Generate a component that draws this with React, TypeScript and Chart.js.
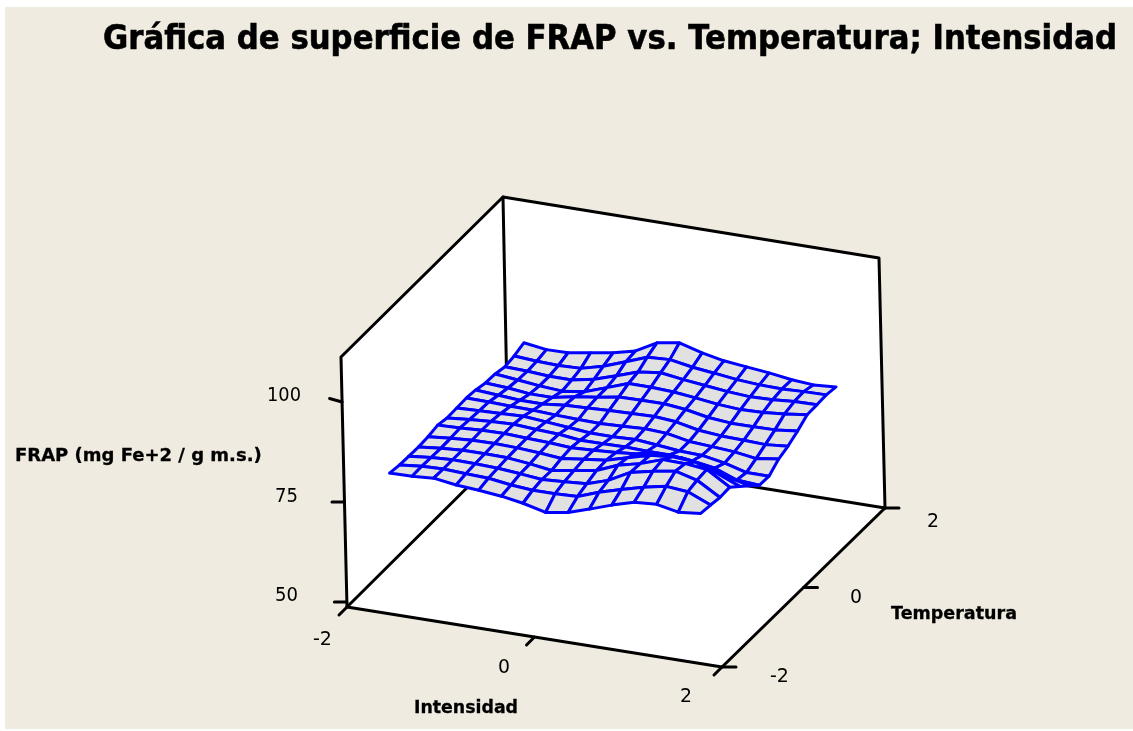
import React, { useEffect, useRef } from "react";
import { Chart, registerables } from "chart.js";

Chart.register(...registerables);

const intensidad = [-1.66, -1.42, -1.19, -0.95, -0.71, -0.47, -0.24, 0, 0.24, 0.47, 0.71, 0.95, 1.19, 1.42, 1.66];
const temperatura = [-1.66, -1.42, -1.19, -0.95, -0.71, -0.47, -0.24, 0, 0.24, 0.47, 0.71, 0.95, 1.19, 1.42, 1.66];

const frapT0 = [80.1, 80.2, 80.6, 79.8, 79.4, 78.8, 77.9, 76.5, 77.4, 79.1, 81.0, 82.6, 83.0, 81.9, 82.5];
const frapT1 = [79.7, 80.3, 80.5, 80.2, 80.0, 79.2, 78.75, 78.8, 79.0, 80.9, 82.5, 84.0, 85.1, 84.6, 82.2];
const frapT2 = [79.6, 80.2, 80.5, 80.4, 80.2, 79.7, 79.15, 79.5, 79.9, 81.6, 84.5, 85.7, 86.6, 85.2, 81.8];
const frapT3 = [79.5, 80.1, 80.5, 80.5, 80.4, 79.8, 79.0, 79.9, 80.8, 83.0, 84.3, 86.2, 86.1, 85.5, 82.0];
const frapT4 = [79.7, 80.2, 80.6, 80.7, 80.5, 80.1, 79.6, 80.3, 81.0, 82.5, 84.0, 84.5, 84.1, 82.2, 79.8];
const frapT5 = [80.2, 80.4, 80.7, 80.8, 80.5, 80.3, 79.9, 80.2, 80.5, 81.0, 81.8, 81.8, 80.6, 78.9, 77.6];
const frapT6 = [79.7, 80.2, 80.6, 80.8, 80.4, 80.1, 79.5, 79.5, 79.6, 79.4, 79.4, 78.8, 77.9, 75.8, 75.4];
const frapT7 = [79.8, 80.0, 80.2, 80.4, 79.9, 79.4, 78.9, 78.9, 79.1, 78.6, 78.0, 77.8, 76.8, 75.3, 75.3];
const frapT8 = [79.9, 79.8, 79.6, 79.5, 79.2, 79.0, 78.9, 79.1, 79.4, 79.1, 78.0, 77.6, 77.2, 76.4, 77.2];
const frapT9 = [79.6, 79.2, 78.8, 78.8, 79.4, 79.6, 79.85, 80.0, 80.15, 79.7, 78.5, 78.0, 77.8, 77.6, 78.1];
const frapT10 = [78.95, 78.6, 78.0, 78.0, 79.1, 79.9, 80.8, 80.9, 80.95, 80.4, 79.3, 78.8, 78.8, 78.9, 79.5];
const frapT11 = [78.8, 78.2, 77.6, 77.2, 77.95, 79.9, 81.8, 81.8, 81.5, 80.9, 80.2, 79.8, 80.0, 80.5, 81.2];
const frapT12 = [78.2, 78.0, 77.6, 77.6, 78.7, 80.5, 82.3, 83.0, 82.2, 81.6, 81.0, 80.6, 80.8, 81.2, 81.3];
const frapT13 = [78.6, 78.2, 78.0, 78.2, 79.65, 81.7, 83.7, 84.0, 83.0, 82.4, 81.7, 81.3, 81.2, 81.4, 81.5];
const frapT14 = [79.5, 78.7, 78.8, 79.7, 80.6, 82.0, 84.9, 85.8, 84.2, 83.1, 82.5, 81.9, 81.1, 80.7, 81.1];
const frap = [frapT0, frapT1, frapT2, frapT3, frapT4, frapT5, frapT6, frapT7, frapT8, frapT9, frapT10, frapT11, frapT12, frapT13, frapT14];

const axisLow = -2;
const axisHigh = 2;
const frapLow = 48.75;
const frapHigh = 111.25;
const frapTicks = [50, 75, 100];
const intensidadTicks = [-2, 0, 2];
const temperaturaTicks = [-2, 0, 2];

const titleText = "Gráfica de superficie de FRAP vs. Temperatura; Intensidad";
const frapTitle = "FRAP (mg Fe+2 / g m.s.)";
const intensidadTitle = "Intensidad";
const temperaturaTitle = "Temperatura";

const BLUE = "#0000FF";
const MESH_FILL = "#E1E1E1";
const BEIGE = "#EFEBE0";
const FONT = '"DejaVu Sans", sans-serif';

// Screen positions of the eight corners of the 3D box (the camera of the plot).
const view = {
  floor00: [347, 607], floor10: [722, 667], floor01: [508, 447], floor11: [885, 508],
  top00: [341, 357], top10: [716, 417], top01: [503, 197], top11: [879, 258],
};

function project(i: number, t: number, z: number) {
  const u = (i - axisLow) / (axisHigh - axisLow);
  const v = (t - axisLow) / (axisHigh - axisLow);
  const w = (z - frapLow) / (frapHigh - frapLow);
  const mix = (a: number[], b: number[], c: number[], d: number[], k: number) => {
    const near = a[k] + (b[k] - a[k]) * u;
    const far = c[k] + (d[k] - c[k]) * u;
    return near + (far - near) * v;
  };
  const pick = (k: number) => {
    const lo = mix(view.floor00, view.floor10, view.floor01, view.floor11, k);
    const hi = mix(view.top00, view.top10, view.top01, view.top11, k);
    return lo + (hi - lo) * w;
  };
  return { x: pick(0), y: pick(1) };
}

function line(points: { x: number; y: number }[], color = "#000", width = 3, fill?: string) {
  return {
    data: points,
    showLine: true,
    pointRadius: 0,
    pointHoverRadius: 0,
    borderColor: color,
    borderWidth: width,
    borderJoinStyle: "round" as const,
    borderCapStyle: "round" as const,
    tension: 0,
    clip: false as const,
    fill: fill ? ("shape" as const) : false,
    backgroundColor: fill ?? "transparent",
  };
}

function buildDatasets() {
  const sets: any[] = [];
  // Index 0 is painted last: the nearest cells come first.
  for (let j = 0; j < temperatura.length - 1; j++) {
    for (let i = intensidad.length - 2; i >= 0; i--) {
      const cell = [
        project(intensidad[i], temperatura[j], frap[j][i]),
        project(intensidad[i + 1], temperatura[j], frap[j][i + 1]),
        project(intensidad[i + 1], temperatura[j + 1], frap[j + 1][i + 1]),
        project(intensidad[i], temperatura[j + 1], frap[j + 1][i]),
      ];
      sets.push(line([...cell, cell[0]], BLUE, 3, MESH_FILL));
    }
  }
  const L = axisLow, H = axisHigh, A = frapLow, B = frapHigh;
  frapTicks.forEach((z, n) => {
    const p = project(L, L, z);
    sets.push(line([p, { x: p.x - 12.5, y: p.y + (n === 2 ? -3.5 : 0) }]));
  });
  intensidadTicks.forEach((i) => {
    const p = project(i, L, A);
    sets.push(line([p, { x: p.x - 8, y: p.y + 8 }]));
  });
  temperaturaTicks.forEach((t) => {
    const p = project(H, t, A);
    sets.push(line([p, { x: p.x + 14, y: p.y }]));
  });
  sets.push(line([project(L, L, A), project(H, L, A), project(H, H, A), project(H, H, B), project(L, H, B), project(L, L, B), project(L, L, A)]));
  sets.push(line([project(L, H, B), project(L, H, A), project(L, L, A)]));
  sets.push(line([project(L, H, A), project(H, H, A)]));
  sets.push(line([project(L, L, A), project(H, L, A), project(H, H, A), project(H, H, B), project(L, H, B), project(L, L, B), project(L, L, A)], "#FFFFFF", 0, "#FFFFFF"));
  return sets;
}

const texts = [
  { s: titleText, x: 103, y: 49, w: 1014, font: `bold 33px ${FONT}`, heavy: 0.6 },
  { s: frapTitle, x: 15, y: 461, w: 249, font: `bold 18px ${FONT}`, heavy: 0.3 },
  { s: intensidadTitle, x: 414, y: 713, w: 104, font: `bold 18px ${FONT}`, heavy: 0.3 },
  { s: temperaturaTitle, x: 891, y: 619, w: 126, font: `bold 18px ${FONT}`, heavy: 0.3 },
  { s: String(frapTicks[2]), x: 267, y: 401, w: 34, font: `19px ${FONT}`, heavy: 0 },
  { s: String(frapTicks[1]), x: 275, y: 502, w: 23, font: `19px ${FONT}`, heavy: 0 },
  { s: String(frapTicks[0]), x: 275, y: 601, w: 23, font: `19px ${FONT}`, heavy: 0 },
  { s: String(intensidadTicks[0]), x: 313, y: 645, w: 19, font: `19px ${FONT}`, heavy: 0 },
  { s: String(intensidadTicks[1]), x: 498, y: 673, w: 12, font: `19px ${FONT}`, heavy: 0 },
  { s: String(intensidadTicks[2]), x: 680, y: 702, w: 12, font: `19px ${FONT}`, heavy: 0 },
  { s: String(temperaturaTicks[0]), x: 770, y: 682, w: 19, font: `19px ${FONT}`, heavy: 0 },
  { s: String(temperaturaTicks[1]), x: 850, y: 603, w: 12, font: `19px ${FONT}`, heavy: 0 },
  { s: String(temperaturaTicks[2]), x: 927, y: 527, w: 12, font: `19px ${FONT}`, heavy: 0 },
];

const framePlugin = {
  id: "frame",
  beforeDraw(chart: any) {
    const { ctx, width, height } = chart;
    ctx.save();
    ctx.fillStyle = "#FFFFFF";
    ctx.fillRect(0, 0, width, height);
    ctx.fillStyle = BEIGE;
    ctx.fillRect(5, 7, width - 5, height - 9);
    ctx.restore();
  },
  afterDraw(chart: any) {
    const { ctx } = chart;
    ctx.save();
    ctx.fillStyle = "#000";
    ctx.strokeStyle = "#000";
    ctx.textBaseline = "alphabetic";
    ctx.textAlign = "left";
    texts.forEach((t) => {
      ctx.font = t.font;
      ctx.fillText(t.s, t.x, t.y, t.w);
      if (t.heavy > 0) {
        ctx.lineWidth = t.heavy;
        ctx.strokeText(t.s, t.x, t.y, t.w);
      }
    });
    ctx.restore();
  },
};

export default function App() {
  const ref = useRef<HTMLCanvasElement | null>(null);
  useEffect(() => {
    if (!ref.current) return;
    const chart = new Chart(ref.current, {
      type: "scatter",
      data: { datasets: buildDatasets() },
      options: {
        animation: false,
        responsive: false,
        layout: { padding: 0 },
        events: [],
        plugins: { legend: { display: false }, tooltip: { enabled: false }, title: { display: false } },
        scales: {
          x: { type: "linear", min: 0, max: 1133, display: false },
          y: { type: "linear", min: 0, max: 731, reverse: true, display: false },
        },
      },
      plugins: [framePlugin],
    } as any);
    return () => chart.destroy();
  }, []);
  return <canvas ref={ref} width={1133} height={731} style={{ position: "absolute", left: 0, top: 0, display: "block" }} />;
}
